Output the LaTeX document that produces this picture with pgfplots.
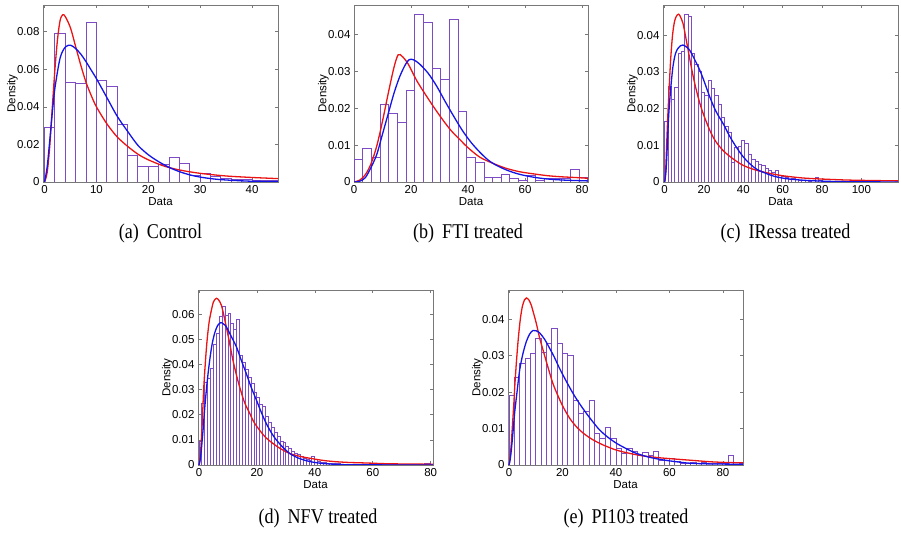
\documentclass[border=0pt]{standalone}
\usepackage{fontspec}
\setmainfont{Liberation Sans}
\newfontfamily\capfont{Liberation Serif}
\usepackage{graphicx}
\usepackage{pgfplots}
\pgfplotsset{compat=1.18}
\definecolor{histc}{RGB}{125,75,195}
\definecolor{fitr}{RGB}{235,20,20}
\definecolor{fitb}{RGB}{20,20,230}
\definecolor{axc}{RGB}{120,120,120}

\pgfplotsset{
  panel/.style={
    scale only axis, width=235pt, height=177pt, anchor=south west,
    ymin=0,
    axis line style={axc, line width=0.6pt},
    tick style={axc, line width=0.6pt},
    tick align=inside, major tick length=3.5pt,
    ticklabel style={font=\fontsize{11.5}{12}\selectfont},
    label style={font=\fontsize{11.5}{12}\selectfont},
    xlabel={Data}, ylabel={Density},
    scaled y ticks=false,
    yticklabel style={/pgf/number format/fixed, /pgf/number format/precision=2},
    /pgf/number format/assume math mode=true,
    xlabel style={yshift=3pt}, ylabel style={yshift=-7.5pt},
  },
  hist/.style={ybar interval, draw=histc, fill=white, line width=0.95pt},
  rfit/.style={fitr, line width=1.3pt, smooth, mark=none},
  bfit/.style={fitb, line width=1.3pt, smooth, mark=none},
}
\newcommand{\capt}[1]{\capfont\fontsize{21}{23}\selectfont\scalebox{0.86}[1]{#1}}

\begin{document}
\begin{tikzpicture}
\path[use as bounding box] (0,0) rectangle (901pt,534pt);

% (a) Control
\begin{axis}[panel, at={(43pt,352pt)}, height=177pt,
  xmin=-0.3, xmax=45, ymax=0.0942,
  xtick={0,10,20,30,40}, ytick={0,0.02,0.04,0.06,0.08}]
\addplot[hist] coordinates {
 (0,.029)(2,.079)(4,.053)(6,.0524)(8,.0848)(10,.0542)(12,.0507)(14,.0306)
 (16,.0142)(18,.0085)(20,.008)(22,.0092)(24,.0133)(26,.0098)(28,.0036)
 (30,.0044)(32,.0027)(34,.0018)(36,.0012)(38,.0012)(40,.0009)(42,.0009)
 (44,.0006)(46,0)};
\addplot[rfit] coordinates {
 (0,0)(0.5,0.005)(1.0,0.019)(1.5,0.040)(2.0,0.060)(2.5,0.076)(3.0,0.086)
 (3.5,0.089)(4.0,0.088)(5.0,0.082)(6.0,0.072)(7.0,0.062)(8.0,0.053)
 (9.0,0.046)(10.0,0.040)(12.0,0.031)(14.0,0.024)(16.0,0.019)(18.0,0.0148)
 (20.0,0.0118)(23.0,0.0085)(26.0,0.0064)(30.0,0.0046)(35.0,0.0032)
 (40.0,0.0024)(45.0,0.0018)};
\addplot[bfit] coordinates {
 (0,0)(0.5,0.008)(1.0,0.022)(1.5,0.037)(2.0,0.050)(3.0,0.066)(4.0,0.0718)
 (5.0,0.0728)(6.0,0.071)(7.0,0.068)(8.0,0.064)(9.0,0.0595)(10.0,0.055)
 (12.0,0.045)(14.0,0.035)(16.0,0.027)(18.0,0.0195)(20.0,0.0145)(22.0,0.0108)
 (24.0,0.0078)(26.0,0.0055)(28.0,0.0038)(30.0,0.0026)(33.0,0.0015)
 (36.0,0.0009)(40.0,0.0004)(45,0.0002)};
\end{axis}

% (b) FTI treated
\begin{axis}[panel, at={(354pt,352pt)}, width=234pt,
  xmin=0, xmax=82.1, ymax=0.048,
  xtick={0,20,40,60,80}, ytick={0,0.01,0.02,0.03,0.04}]
\addplot[hist] coordinates {
 (0,.0061)(3.04,.009)(6.08,.0066)(9.12,.021)(12.16,.0187)(15.2,.0162)
 (18.24,.0249)(21.28,.0455)(24.32,.0432)(27.36,.0307)(30.4,.0278)
 (33.44,.0441)(36.48,.0191)(39.52,.0066)(42.56,.0052)(45.6,.0013)
 (48.64,.0012)(51.68,.0021)(54.72,.001)(57.76,.0004)(60.8,.0019)
 (63.84,.0004)(66.88,.001)(69.92,.0009)(72.96,.001)(76,.0034)(79.04,.0012)
 (82.08,0)};
\addplot[rfit] coordinates {
 (0,0)(2,0.0005)(4,0.002)(6,0.005)(8,0.0098)(10,0.0165)(12,0.024)(14,0.031)
 (15.5,0.0345)(17,0.034)(19,0.032)(22,0.0275)(25,0.0238)(28,0.0203)
 (31,0.017)(34,0.014)(37,0.0116)(40,0.0093)(44,0.0068)(48,0.0053)
 (53,0.0038)(58,0.0028)(63,0.0022)(68,0.0017)(73,0.0014)(78,0.0012)
 (82.1,0.001)};
\addplot[bfit] coordinates {
 (0,0)(2,0.0002)(4,0.0012)(6,0.004)(8,0.0075)(10,0.013)(12,0.0185)
 (14,0.024)(16,0.0285)(18,0.0318)(19.4,0.0332)(21,0.0331)(23,0.032)
 (26,0.0295)(29,0.026)(32,0.0218)(35,0.0178)(38,0.014)(41,0.0108)
 (44,0.0082)(47,0.006)(50,0.0045)(54,0.0031)(58,0.0021)(63,0.0013)
 (68,0.0008)(74,0.0005)(82,0.0003)};
\end{axis}

% (c) IRessa treated
\begin{axis}[panel, at={(663pt,352pt)},
  xmin=-0.85, xmax=118.6, ymax=0.0482,
  xtick={0,20,40,60,80,100}, ytick={0,0.01,0.02,0.03,0.04}]
\addplot[hist] coordinates {
 (0,.0164)(1.7,.026)(3.4,.0225)(5.1,.0258)(6.8,.035)(8.5,.0355)(10.2,.0456)
 (11.9,.0452)(13.6,.035)(15.3,.032)(17,.030)(18.7,.0245)(20.4,.0235)
 (22.1,.0276)(23.8,.0255)(25.5,.0235)(27.2,.021)(28.9,.0175)(30.6,.015)
 (32.3,.0135)(34,.0052)(35.7,.0095)(37.4,.0098)(39.1,.0112)(40.8,.0105)
 (42.5,.0075)(44.2,.0062)(45.9,.0055)(47.6,.0048)(49.3,.0045)(51,.0038)
 (52.7,.003)(54.4,.0026)(56.1,.003)(57.8,.0018)(59.5,.0015)(61.2,.0012)
 (62.9,.0008)(64.6,.001)(66.3,.0006)(68,.0005)(69.7,.0003)(71.4,.0003)
 (73.1,.0002)(74.8,.0004)(76.5,.0012)(78.2,.0005)(79.9,.0002)(81.6,.0001)
 (83.3,.0002)(85,.0001)(86.7,.0001)(88.4,0)(90.1,.0001)(91.8,0)(93.5,0)
 (95.2,.0001)(96.9,0)(98.6,0)(100.3,0)(102,.0001)(103.7,0)(105.4,0)
 (107.1,0)(108.8,0)(110.5,0)(112.2,0)(113.9,0)(115.6,0)(117.3,0)(119,0)};
\addplot[rfit] coordinates {
 (0,0)(0.5,0.003)(1,0.010)(1.5,0.017)(2,0.0225)(3,0.033)(4,0.040)
 (5,0.0437)(6,0.0452)(7.1,0.0457)(8,0.045)(9.3,0.0432)(10.5,0.040)
 (12,0.0357)(14,0.030)(16,0.0252)(18,0.0212)(20,0.018)(23,0.014)(26,0.011)
 (30,0.0084)(35,0.0062)(40,0.0045)(46,0.0033)(52,0.0025)(60,0.0017)
 (70,0.0011)(80,0.0008)(95,0.0005)(118.6,0.0003)};
\addplot[bfit] coordinates {
 (0,0)(0.5,0.002)(1,0.006)(2,0.0177)(3,0.025)(4.2,0.0314)(5.5,0.035)
 (6.8,0.0364)(8,0.0371)(9.3,0.0373)(11,0.0368)(12.7,0.0359)(15,0.0336)
 (17.8,0.0305)(20,0.0275)(22.9,0.0232)(26,0.0193)(29.7,0.0159)(33,0.0125)
 (36.4,0.0095)(40,0.0068)(43.2,0.005)(47,0.0034)(51.7,0.0023)(56,0.0015)
 (61.9,0.0009)(70,0.0005)(77,0.0003)(90,0.0001)(118.6,0)};
\end{axis}

% (d) NFV treated
\begin{axis}[panel, at={(198pt,69pt)}, height=175pt,
  xmin=-0.35, xmax=80.8, ymax=0.0697,
  xtick={0,20,40,60,80}, ytick={0,0.01,0.02,0.03,0.04,0.05,0.06}]
\addplot[hist] coordinates {
 (0,.0093)(1,.0245)(2,.033)(3,.0345)(4,.0385)(5,.048)(6,.0525)(7,.059)
 (8,.063)(9,.0595)(10,.0605)(11,.0565)(12,.054)(13,.058)(14,.0435)(15,.041)
 (16,.038)(17,.035)(18,.0325)(19,.029)(20,.027)(21,.024)(22,.0235)
 (23,.0195)(24,.017)(25,.015)(26,.013)(27,.0115)(28,.0095)(29,.0088)
 (30,.0072)(31,.0065)(32,.0055)(33,.0045)(34,.004)(35,.0032)(36,.0025)
 (37,.002)(38,.0018)(39,.0035)(40,.0022)(41,.0015)(42,.0012)(43,.0012)
 (44,.0008)(45,.0008)(46,.0007)(47,.0005)(48,.0005)(49,.0004)(50,.0004)
 (51,.0003)(52,.0003)(53,.0003)(54,.0002)(55,.0003)(56,.0002)(57,.0002)
 (58,.0003)(59,.0007)(60,.0003)(61,.0002)(62,.0001)(63,.0002)(64,.0001)
 (65,.0001)(66,.0002)(67,.0001)(68,.0001)(69,.0002)(70,.0001)(71,.0001)
 (72,.0002)(73,.0001)(74,.0001)(75,.0001)(76,.0001)(77,.0002)(78,.0006)
 (79,.0007)(80,.0002)(81,0)};
\addplot[rfit] coordinates {
 (0,0)(0.4,0.003)(0.8,0.01)(1.2,0.019)(1.6,0.030)(2.2,0.041)(2.8,0.0498)
 (3.5,0.057)(4.3,0.0618)(5,0.065)(6,0.0664)(6.8,0.0657)(7.7,0.0637)
 (8.5,0.060)(9.4,0.0551)(10.5,0.049)(11.7,0.0418)(13,0.0355)(14,0.0312)
 (15.7,0.025)(17.5,0.0206)(19,0.017)(20.9,0.0139)(23,0.011)(25.5,0.0086)
 (28,0.0066)(31.3,0.0046)(35,0.0034)(38.2,0.0027)(43,0.0018)(47.4,0.0013)
 (52,0.001)(57.8,0.0008)(65,0.0005)(72,0.0004)(80.8,0.0003)};
\addplot[bfit] coordinates {
 (0,0)(0.4,0.002)(0.8,0.006)(1.4,0.014)(2,0.023)(2.8,0.033)(3.7,0.0418)
 (4.5,0.048)(5.4,0.0525)(6.4,0.0555)(7.5,0.0567)(8.4,0.0562)(9.4,0.0551)
 (11,0.0515)(12.9,0.0471)(14.5,0.042)(16.3,0.0365)(18,0.031)(19.8,0.0259)
 (21.5,0.021)(23.2,0.0166)(25,0.0128)(26.7,0.010)(29,0.007)(31.3,0.0046)
 (34,0.0029)(37.1,0.0017)(40,0.001)(44,0.0005)(52,0.0001)(80.8,0)};
\end{axis}

% (e) PI103 treated
\begin{axis}[panel, at={(508pt,69pt)}, height=175pt,
  xmin=-0.37, xmax=87.5, ymax=0.048,
  xtick={0,20,40,60,80}, ytick={0,0.01,0.02,0.03,0.04}]
\addplot[hist] coordinates {
 (0,.0192)(2,.024)(4,.0279)(6,.0293)(8,.0307)(10,.0348)(12,.031)(14,.0334)
 (16,.0375)(18,.0333)(20,.0307)(22,.030)(24,.0178)(26,.014)(28,.0148)
 (30,.0176)(32,.0087)(34,.0073)(36,.0103)(38,.0073)(40,.0046)(42,.0032)
 (44,.0046)(46,.0038)(48,.0027)(50,.0035)(52,.0025)(54,.0037)(56,.0012)
 (58,.0018)(60,.0018)(62,.001)(64,.0005)(66,.0004)(68,.0008)(70,.0004)
 (72,.0006)(74,.0003)(76,.0004)(78,.0004)(80,.0003)(82,.0025)(84,.0006)
 (86,.0004)(88,0)};
\addplot[rfit] coordinates {
 (0,0)(0.4,0.002)(0.87,0.006)(1.3,0.011)(1.74,0.016)(2.2,0.022)(2.74,0.0279)
 (3.4,0.034)(4.2,0.0398)(5,0.0435)(5.8,0.0453)(6.5,0.0458)(7.4,0.0453)
 (8.3,0.0439)(9.2,0.0416)(10.2,0.0389)(11.4,0.035)(12.7,0.0316)(14.5,0.027)
 (16.4,0.0224)(18.3,0.019)(20.2,0.016)(22.7,0.0128)(25.2,0.0105)(28,0.0086)
 (31.4,0.0069)(35.5,0.0054)(40.1,0.0041)(45,0.0032)(50.1,0.0025)(56,0.002)
 (62.6,0.0016)(68,0.0013)(75,0.0009)(81,0.0007)(87.5,0.0006)};
\addplot[bfit] coordinates {
 (0,0)(0.4,0.0013)(0.87,0.0041)(1.5,0.009)(2.1,0.0142)(3,0.02)(4,0.0261)
 (5.2,0.0305)(6.5,0.0339)(7.8,0.036)(9,0.0369)(10.2,0.0368)(11.5,0.0362)
 (13.3,0.0345)(15.2,0.032)(17,0.0295)(18.9,0.0265)(21.4,0.023)(23.9,0.0197)
 (26.4,0.0168)(28.9,0.0142)(31.4,0.0118)(33.9,0.0096)(37,0.0076)(40.1,0.006)
 (43.8,0.0045)(47.6,0.0032)(52.6,0.0021)(57.6,0.0014)(62.5,0.0009)
 (67.5,0.0005)(75,0.0003)(87.5,0.0002)};
\end{axis}

\node at (160.5pt,301pt) {\capt{(a)\hspace{0.45em}Control}};
\node at (468pt,301pt) {\capt{(b)\hspace{0.45em}FTI treated}};
\node at (785.5pt,301pt) {\capt{(c)\hspace{0.45em}IRessa treated}};
\node at (318pt,16pt) {\capt{(d)\hspace{0.45em}NFV treated}};
\node at (626pt,16pt) {\capt{(e)\hspace{0.45em}PI103 treated}};
\end{tikzpicture}
\end{document}
